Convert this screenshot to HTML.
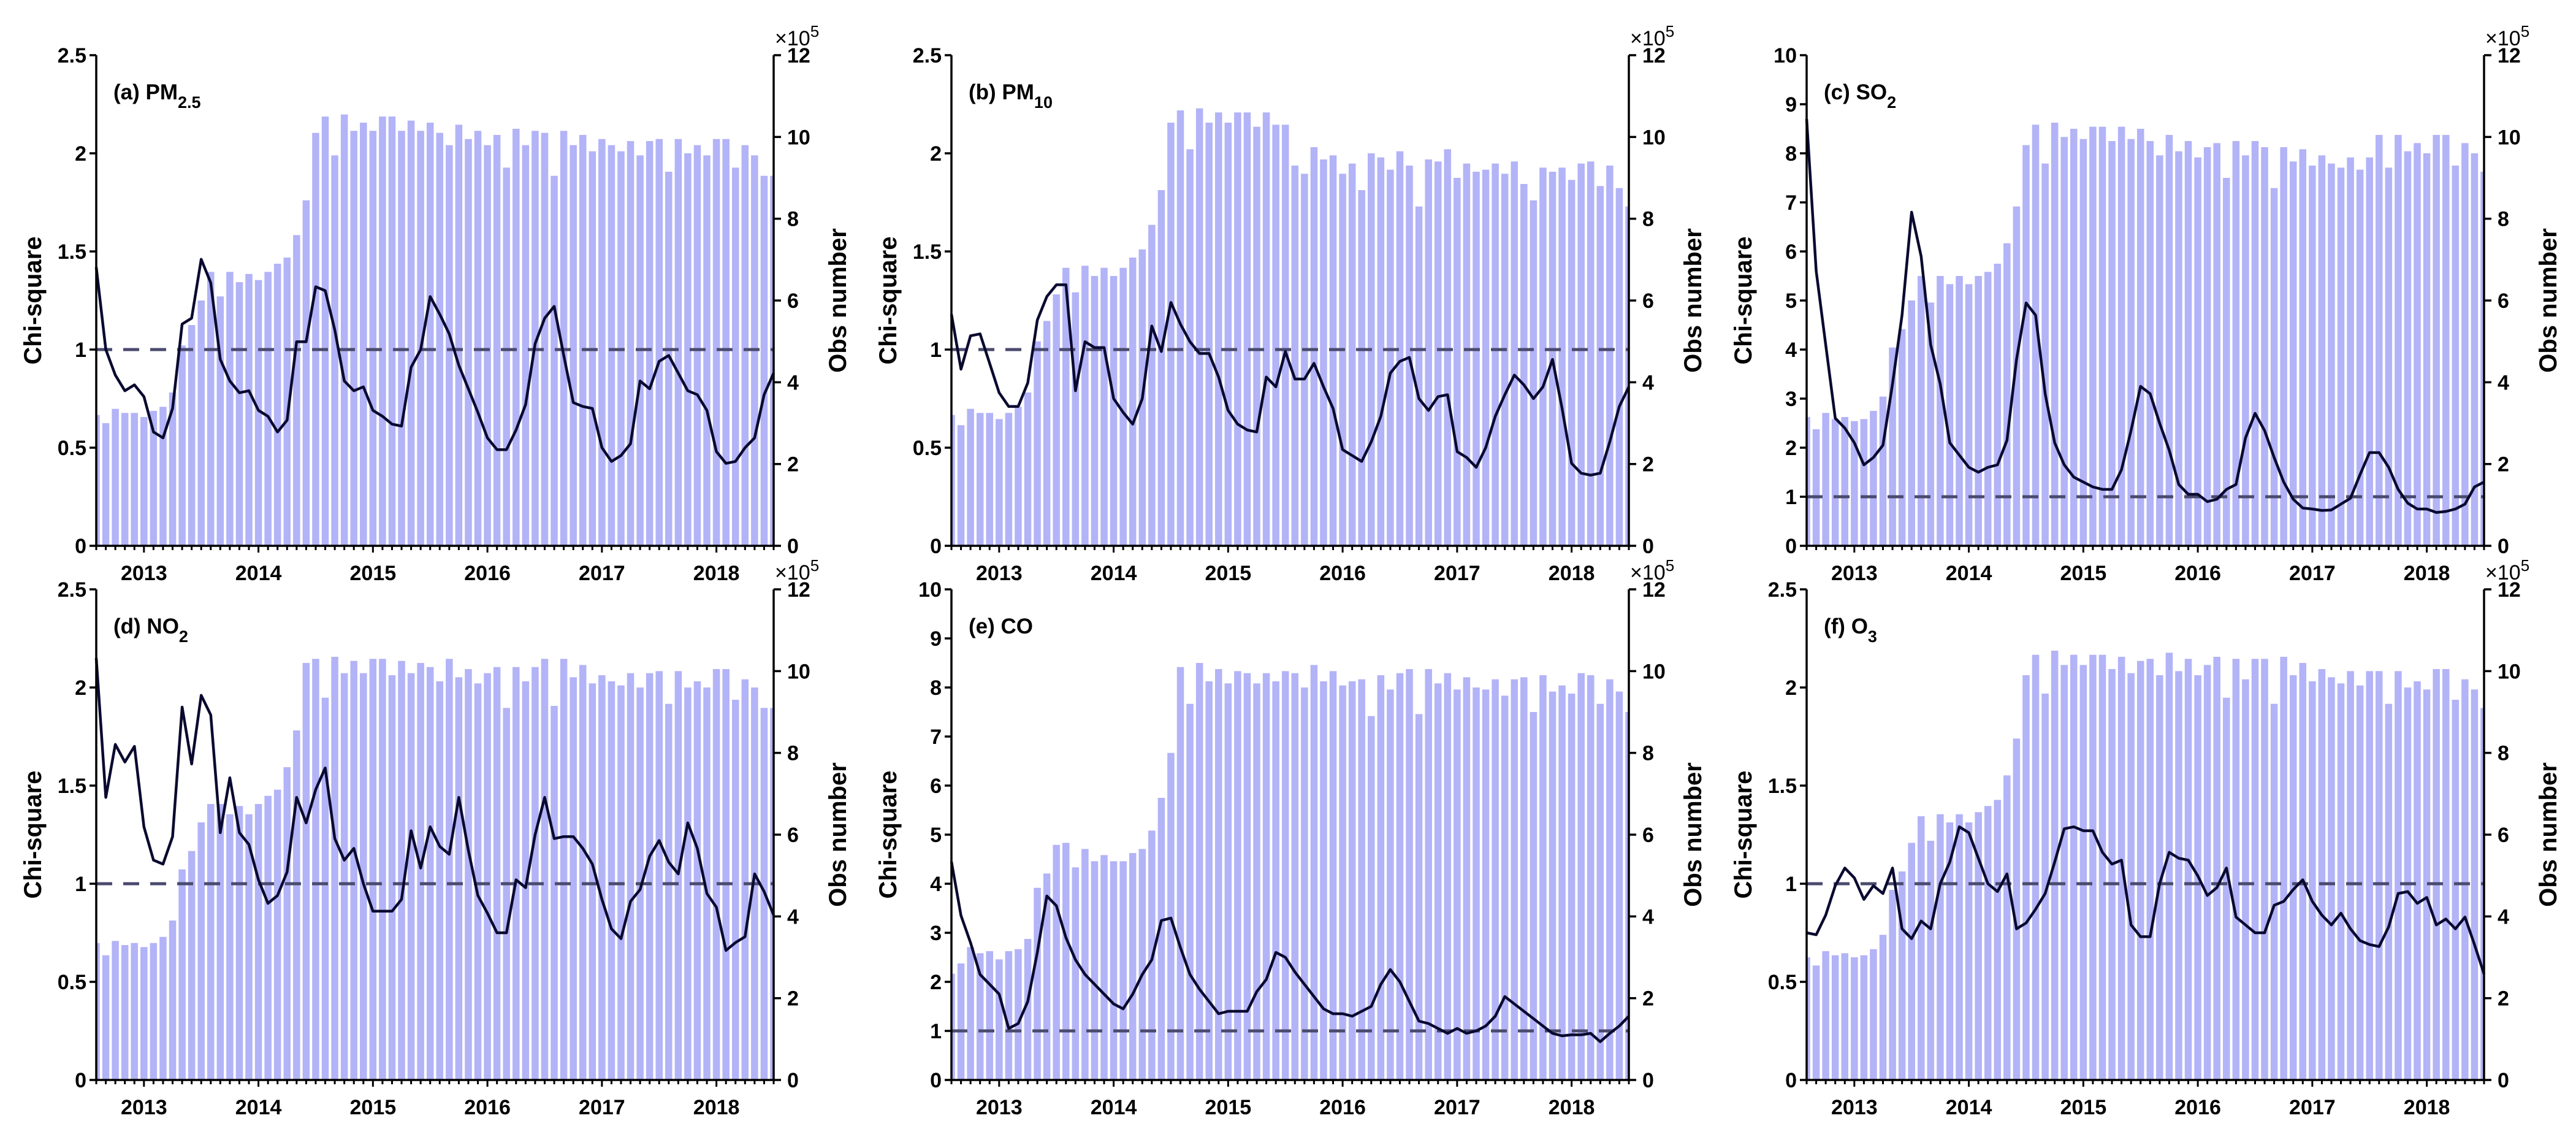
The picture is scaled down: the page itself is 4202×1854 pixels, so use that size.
<!DOCTYPE html>
<html><head><meta charset="utf-8"><style>
html,body{margin:0;padding:0;background:#fff;}
svg{display:block;font-family:"Liberation Sans",Arial,sans-serif;}
</style></head><body>
<svg id="fig" width="4202" height="1854" viewBox="0 0 4202 1854" xmlns="http://www.w3.org/2000/svg"></svg>
<script>
const years = ["2013","2014","2015","2016","2017","2018"];
const titles = ["(a) PM","(b) PM","(c) SO","(d) NO","(e) CO","(f) O"];
const titleSubs = ["2.5","10","2","2","","3"];
const chiMax = [2.5,2.5,10,2.5,10,2.5];
const leftTicksSmall = ["0","0.5","1","1.5","2","2.5"];
const leftTicksLarge = ["0","1","2","3","4","5","6","7","8","9","10"];
const rightTicks = ["0","2","4","6","8","10","12"];

const barsA = [3.2,3.0,3.35,3.25,3.25,3.15,3.3,3.4,3.75,4.9,5.4,6.0,6.7,6.1,6.7,6.45,6.65,6.5,6.7,6.9,7.05,7.6,8.45,10.1,10.5,9.55,10.55,10.15,10.35,10.15,10.5,10.5,10.15,10.4,10.15,10.35,10.1,9.8,10.3,9.95,10.15,9.8,10.05,9.25,10.2,9.8,10.15,10.1,9.05,10.15,9.8,10.05,9.65,9.95,9.8,9.65,9.9,9.55,9.9,9.95,9.15,9.95,9.6,9.8,9.55,9.95,9.95,9.25,9.8,9.55,9.05,9.05];
const lineA = [1.42,1.0,0.87,0.79,0.82,0.76,0.58,0.55,0.70,1.13,1.16,1.46,1.34,0.95,0.84,0.78,0.79,0.69,0.66,0.58,0.64,1.04,1.04,1.32,1.30,1.10,0.84,0.79,0.81,0.69,0.66,0.62,0.61,0.91,1.00,1.27,1.18,1.08,0.92,0.80,0.68,0.55,0.49,0.49,0.59,0.72,1.03,1.16,1.22,0.97,0.73,0.71,0.70,0.50,0.43,0.46,0.52,0.84,0.80,0.94,0.97,0.88,0.79,0.77,0.69,0.48,0.42,0.43,0.50,0.55,0.77,0.88];
const barsB = [3.2,2.95,3.35,3.25,3.25,3.1,3.25,3.4,3.75,5.0,5.5,6.15,6.8,6.2,6.85,6.6,6.8,6.6,6.8,7.05,7.25,7.85,8.7,10.35,10.65,9.7,10.7,10.35,10.6,10.35,10.6,10.6,10.25,10.6,10.3,10.3,9.3,9.1,9.75,9.45,9.55,9.1,9.35,8.7,9.6,9.5,9.2,9.65,9.3,8.3,9.45,9.4,9.7,9.0,9.35,9.15,9.2,9.35,9.1,9.4,8.85,8.45,9.25,9.15,9.25,8.95,9.35,9.4,8.8,9.3,8.75,8.3];
const lineB = [1.18,0.90,1.07,1.08,0.93,0.78,0.71,0.71,0.83,1.15,1.27,1.33,1.33,0.79,1.04,1.01,1.01,0.75,0.68,0.62,0.75,1.12,0.99,1.24,1.13,1.04,0.98,0.98,0.86,0.69,0.62,0.59,0.58,0.86,0.81,0.99,0.85,0.85,0.93,0.81,0.70,0.49,0.46,0.43,0.53,0.66,0.88,0.94,0.96,0.75,0.69,0.76,0.77,0.48,0.45,0.40,0.50,0.66,0.77,0.87,0.82,0.75,0.81,0.95,0.70,0.42,0.37,0.36,0.37,0.53,0.71,0.81];
const barsC = [3.15,2.85,3.25,3.1,3.15,3.05,3.1,3.3,3.65,4.85,5.3,6.0,6.6,5.95,6.6,6.4,6.6,6.4,6.6,6.7,6.9,7.4,8.3,9.8,10.3,9.35,10.35,10.0,10.2,9.95,10.25,10.25,9.9,10.25,9.95,10.2,9.9,9.55,10.05,9.65,9.9,9.5,9.75,9.85,9.0,9.9,9.55,9.9,9.75,8.75,9.75,9.4,9.7,9.3,9.55,9.35,9.25,9.5,9.2,9.5,10.05,9.25,10.05,9.65,9.85,9.6,10.05,10.05,9.3,9.85,9.6,9.15];
const lineC = [8.7,5.6,4.1,2.6,2.4,2.1,1.65,1.8,2.05,3.3,4.7,6.8,5.9,4.1,3.3,2.1,1.85,1.6,1.5,1.6,1.65,2.15,3.8,4.95,4.7,3.1,2.1,1.65,1.4,1.3,1.2,1.15,1.15,1.55,2.35,3.25,3.1,2.5,1.95,1.25,1.05,1.05,0.9,0.95,1.15,1.25,2.2,2.7,2.35,1.8,1.3,0.95,0.77,0.75,0.72,0.73,0.85,0.97,1.45,1.9,1.9,1.6,1.15,0.87,0.75,0.75,0.68,0.7,0.75,0.85,1.2,1.3];
const barsD = [3.35,3.05,3.4,3.3,3.35,3.25,3.35,3.5,3.9,5.15,5.6,6.3,6.75,6.75,6.5,6.7,6.5,6.75,6.95,7.1,7.65,8.55,10.2,10.3,9.35,10.35,9.95,10.25,9.95,10.3,10.3,9.9,10.25,9.95,10.2,10.1,9.75,10.3,9.85,10.05,9.7,9.95,10.1,9.1,10.1,9.75,10.1,10.3,9.15,10.3,9.85,10.15,9.7,9.9,9.75,9.65,9.95,9.6,9.95,10.0,9.2,10.0,9.6,9.75,9.6,10.05,10.05,9.3,9.8,9.6,9.1,9.1];
const lineD = [2.15,1.44,1.71,1.62,1.70,1.29,1.12,1.10,1.24,1.90,1.61,1.96,1.86,1.26,1.54,1.26,1.20,1.02,0.90,0.94,1.06,1.44,1.31,1.48,1.59,1.23,1.12,1.18,1.0,0.86,0.86,0.86,0.92,1.27,1.08,1.29,1.19,1.15,1.44,1.17,0.94,0.85,0.75,0.75,1.02,0.98,1.25,1.44,1.23,1.24,1.24,1.18,1.10,0.92,0.77,0.72,0.91,0.97,1.14,1.22,1.11,1.05,1.31,1.18,0.95,0.88,0.66,0.70,0.73,1.05,0.96,0.84];
const barsE = [2.6,2.85,3.25,3.1,3.15,2.95,3.15,3.2,3.45,4.7,5.05,5.75,5.8,5.2,5.65,5.35,5.5,5.35,5.35,5.55,5.65,6.1,6.9,8.0,10.1,9.2,10.2,9.75,10.05,9.7,10.0,9.95,9.7,9.95,9.75,10.0,9.95,9.6,10.15,9.75,10.0,9.65,9.75,9.8,8.9,9.9,9.55,9.95,10.05,8.95,10.05,9.7,9.95,9.55,9.85,9.6,9.55,9.8,9.4,9.8,9.85,9.0,9.9,9.5,9.65,9.45,9.95,9.9,9.2,9.8,9.5,9.0];
const lineE = [4.45,3.35,2.8,2.15,1.95,1.75,1.05,1.15,1.6,2.6,3.75,3.55,2.9,2.45,2.15,1.95,1.75,1.55,1.45,1.75,2.15,2.45,3.25,3.3,2.7,2.15,1.85,1.6,1.35,1.4,1.4,1.4,1.8,2.05,2.6,2.5,2.2,1.95,1.7,1.45,1.35,1.35,1.3,1.4,1.5,1.95,2.25,2.0,1.6,1.2,1.15,1.05,0.95,1.05,0.95,1.0,1.1,1.3,1.7,1.55,1.4,1.25,1.1,0.95,0.9,0.92,0.92,0.95,0.78,0.95,1.1,1.3];
const barsF = [3.0,2.8,3.15,3.05,3.1,3.0,3.05,3.2,3.55,4.65,5.1,5.8,6.45,5.85,6.5,6.3,6.5,6.3,6.55,6.7,6.85,7.45,8.35,9.9,10.4,9.45,10.5,10.15,10.4,10.15,10.4,10.4,10.05,10.35,9.95,10.25,10.3,9.9,10.45,10.0,10.3,9.9,10.15,10.35,9.35,10.3,9.8,10.3,10.3,9.2,10.35,9.9,10.2,9.75,10.05,9.85,9.7,10.0,9.65,10.0,10.0,9.2,10.0,9.6,9.75,9.55,10.05,10.05,9.3,9.8,9.55,9.1];
const lineF = [0.75,0.74,0.84,0.99,1.08,1.03,0.92,0.99,0.95,1.08,0.77,0.72,0.81,0.77,1.0,1.11,1.29,1.26,1.13,1.0,0.96,1.05,0.77,0.80,0.87,0.95,1.11,1.28,1.29,1.27,1.27,1.16,1.10,1.12,0.79,0.73,0.73,1.0,1.16,1.13,1.12,1.04,0.94,0.98,1.08,0.83,0.79,0.75,0.75,0.89,0.91,0.97,1.02,0.91,0.84,0.79,0.85,0.77,0.71,0.69,0.68,0.78,0.95,0.96,0.90,0.93,0.79,0.82,0.77,0.83,0.69,0.54];

const allBars = [barsA,barsB,barsC,barsD,barsE,barsF];
const allLines = [lineA,lineB,lineC,lineD,lineE,lineF];
const panelNames = ["pm25","pm10","so2","no2","co","o3"];

const NS = "http://www.w3.org/2000/svg";
const svg = document.getElementById("fig");
function mk(tag, attrs, parent){
  const e = document.createElementNS(NS, tag);
  for (const k in attrs) e.setAttribute(k, attrs[k]);
  (parent||svg).appendChild(e);
  return e;
}
const colX = [157,1552,2947];
const rowY = [90,961];
const W = 1105, H = 800;
const NM = 71;

for (let p=0;p<6;p++){
  const x0 = colX[p%3], y0 = rowY[Math.floor(p/3)];
  const g = mk("g",{});
  
  
  const xs = i => x0 + i/NM*W;
  const yl = v => y0 + H - v/chiMax[p]*H;
  const yr = v => y0 + H - v/12*H;
  const cid = "clip"+p;
  const cp = mk("clipPath",{id:cid},g);
  mk("rect",{x:x0,y:y0,width:W,height:H},cp);
  const bg = mk("g",{"clip-path":"url(#"+cid+")"},g);
  const bars = allBars[p];
  const bw = W/NM*0.74;
  for (let i=0;i<bars.length;i++){
    const r = mk("rect",{x:xs(i)-bw/2,y:yr(bars[i]),width:bw,height:y0+H-yr(bars[i]),fill:"#b3b3f7"},bg);
    
    
  }
  const dl = mk("line",{x1:x0,x2:x0+W,y1:yl(1),y2:yl(1),stroke:"#4a4a6e","stroke-width":5,"stroke-dasharray":"26,18"},g);
  
  
  const ln = allLines[p];
  let d = "";
  for (let i=0;i<ln.length;i++) d += (i?"L":"M")+xs(i).toFixed(1)+","+yl(ln[i]).toFixed(1);
  const pl = mk("path",{d:d,fill:"none",stroke:"#0a0a30","stroke-width":4.5,"stroke-linejoin":"round"},g);
  
  
  mk("path",{d:`M${x0},${y0}V${y0+H}H${x0+W}V${y0}`,fill:"none",stroke:"#000","stroke-width":3.5},g);
  const lt = chiMax[p]===10 ? leftTicksLarge : leftTicksSmall;
  for (const t of lt){
    const y = yl(parseFloat(t));
    mk("line",{x1:x0-11,x2:x0,y1:y,y2:y,stroke:"#000","stroke-width":3.5},g);
    const tx = mk("text",{x:x0-16,y:y+12,"text-anchor":"end","font-size":34,"font-weight":"bold"},g);
    tx.textContent = t;
    
    
  }
  for (const t of rightTicks){
    const y = yr(parseFloat(t));
    mk("line",{x1:x0+W,x2:x0+W+12,y1:y,y2:y,stroke:"#000","stroke-width":3.5},g);
    const tx = mk("text",{x:x0+W+22,y:y+12,"font-size":34,"font-weight":"bold"},g);
    tx.textContent = t;
    
    
  }
  for (let i=0;i<=NM;i++){
    const major = (i-5)%12===0 || (i+7)%12===0;
    mk("line",{x1:xs(i),x2:xs(i),y1:y0+H,y2:y0+H+(major?11:7),stroke:"#000","stroke-width":3},g);
  }
  for (let k=0;k<years.length;k++){
    const tx = mk("text",{x:xs(5+12*k),y:y0+H+56,"text-anchor":"middle","font-size":34,"font-weight":"bold"},g);
    tx.textContent = years[k];
    
    
  }
  const ex = mk("text",{x:x0+W+2,y:y0-16,"font-size":34},g);
  ex.textContent = "×10";
  
  
  const sup = mk("tspan",{dy:-14,"font-size":26},ex); sup.textContent="5";
  const tt = mk("text",{x:x0+28,y:y0+72,"font-size":35,"font-weight":"bold"},g);
  tt.textContent = titles[p];
  
  
  if (titleSubs[p]){ const s = mk("tspan",{dy:14,"font-size":27},tt); s.textContent = titleSubs[p]; }
  const cy = y0+H/2;
  const at = mk("text",{x:0,y:0,transform:`translate(${x0-90},${cy}) rotate(-90)`,"text-anchor":"middle","font-size":40,"font-weight":"bold"},g);
  at.textContent = "Chi-square";
  
  
  const rt = mk("text",{x:0,y:0,transform:`translate(${x0+W+118},${cy}) rotate(-90)`,"text-anchor":"middle","font-size":40,"font-weight":"bold"},g);
  rt.textContent = "Obs number";
  
  
}
</script>
</body></html>
